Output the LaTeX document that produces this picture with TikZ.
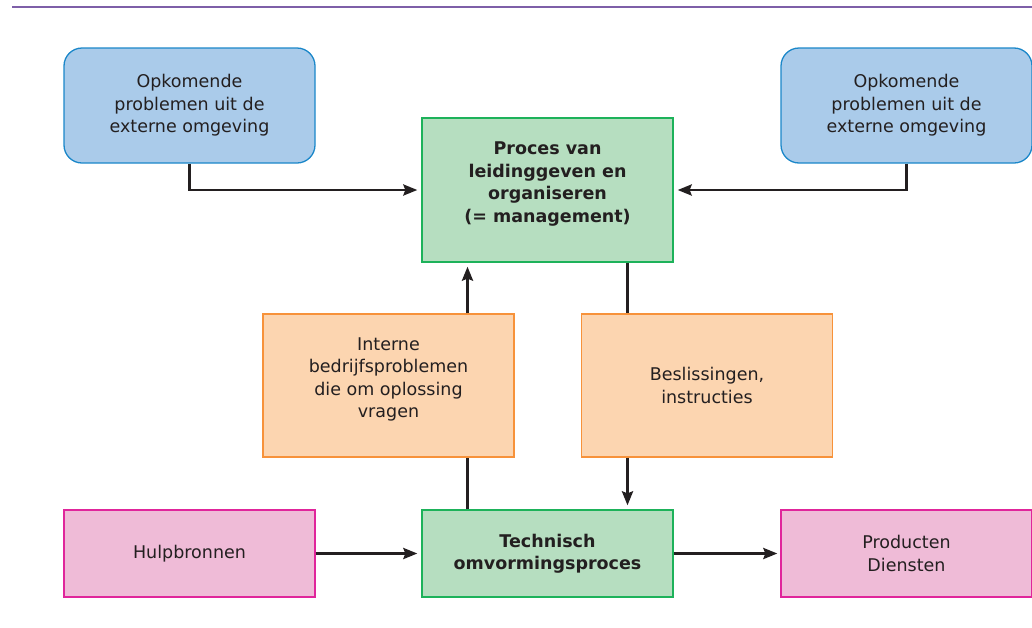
\documentclass[tikz,border=0pt]{standalone}
\usepackage{fontspec}
\setmainfont{DejaVu Sans}
\usetikzlibrary{arrows.meta,calc}

\definecolor{txt}{HTML}{231F20}
\definecolor{rulepurple}{HTML}{7E5FA8}
\definecolor{bluefill}{HTML}{AACBEA}
\definecolor{blueline}{HTML}{1B87C9}
\definecolor{greenfill}{HTML}{B6DEC0}
\definecolor{greenline}{HTML}{1DB25A}
\definecolor{orangefill}{HTML}{FCD5B0}
\definecolor{orangeline}{HTML}{F7923A}
\definecolor{pinkfill}{HTML}{EFBBD7}
\definecolor{pinkline}{HTML}{E0259B}

\tikzset{
  box/.style={rectangle, minimum width=251pt, line width=1.3pt,
    text=txt, align=center, inner sep=0pt,
    font=\fontsize{17.5}{22.5}\selectfont},
  extbox/.style={box, fill=bluefill, draw=blueline, rounded corners=18pt, minimum height=115pt},
  procbox/.style={box, fill=greenfill, draw=greenline},
  midbox/.style={box, fill=orangefill, draw=orangeline, minimum height=143pt},
  endbox/.style={box, fill=pinkfill, draw=pinkline, minimum height=87pt},
  boldtxt/.style={text=txt, align=center, inner sep=0pt,
    font=\fontsize{17.5}{22.5}\selectfont\bfseries},
  plaintxt/.style={text=txt, align=center, inner sep=0pt,
    font=\fontsize{17.5}{22.5}\selectfont},
  conn/.style={line width=2.8pt, draw=txt},
  arr/.style={conn, -{Stealth[length=14pt, width=11pt, inset=2pt]}},
}

\begin{document}
\begin{tikzpicture}[x=1pt, y=-1pt]
  \useasboundingbox (0,0) rectangle (1032,627);

  % header rule
  \draw[rulepurple, line width=2pt] (12,7) -- (1032,7);

  % external problems
  \node[extbox] (extL) at (189.5,105.5) {Opkomende\\problemen uit de\\externe omgeving};
  \node[extbox] (extR) at (906.5,105.5) {Opkomende\\problemen uit de\\externe omgeving};

  % management process
  \node[procbox, minimum height=144pt] (mgmt) at (547.5,190) {};
  \node[boldtxt] (mgmtlbl) at ([yshift=6pt]mgmt.center)
    {Proces van\\leidinggeven en\\organiseren\\(= management)};

  % internal problems and decisions
  \node[midbox] (intern) at (388.5,385.5) {};
  \node[plaintxt] (internlbl) at ([yshift=6pt]intern.center)
    {Interne\\bedrijfsproblemen\\die om oplossing\\vragen};
  \node[midbox] (besl) at (707,385.5) {Beslissingen,\\instructies};

  % transformation process
  \node[procbox, minimum height=87pt] (tech) at (547.5,553.5)
    {\bfseries Technisch\\\bfseries omvormingsproces};

  % inputs and outputs
  \node[endbox] (hulp) at (189.5,553.5) {Hulpbronnen};
  \node[endbox] (prod) at (906.5,553.5) {Producten\\Diensten};

  % connectors
  \draw[arr] (extL.south) |- ([xshift=-4pt]mgmt.west);
  \draw[arr] (extR.south) |- ([xshift=4pt]mgmt.east);

  \draw[arr] ([xshift=-80pt]mgmt.south |- intern.north) -- ([xshift=-80pt,yshift=-4pt]mgmt.south);
  \draw[conn] ([xshift=-80pt]tech.north) -- ([xshift=-80pt]tech.north |- intern.south);

  \draw[conn] ([xshift=80pt]mgmt.south) -- ([xshift=80pt]mgmt.south |- besl.north);
  \draw[arr] ([xshift=80pt]tech.north |- besl.south) -- ([xshift=80pt,yshift=4pt]tech.north);

  \draw[arr] (hulp.east) -- ([xshift=-4pt]tech.west);
  \draw[arr] (tech.east) -- ([xshift=-3pt]prod.west);
\end{tikzpicture}
\end{document}
